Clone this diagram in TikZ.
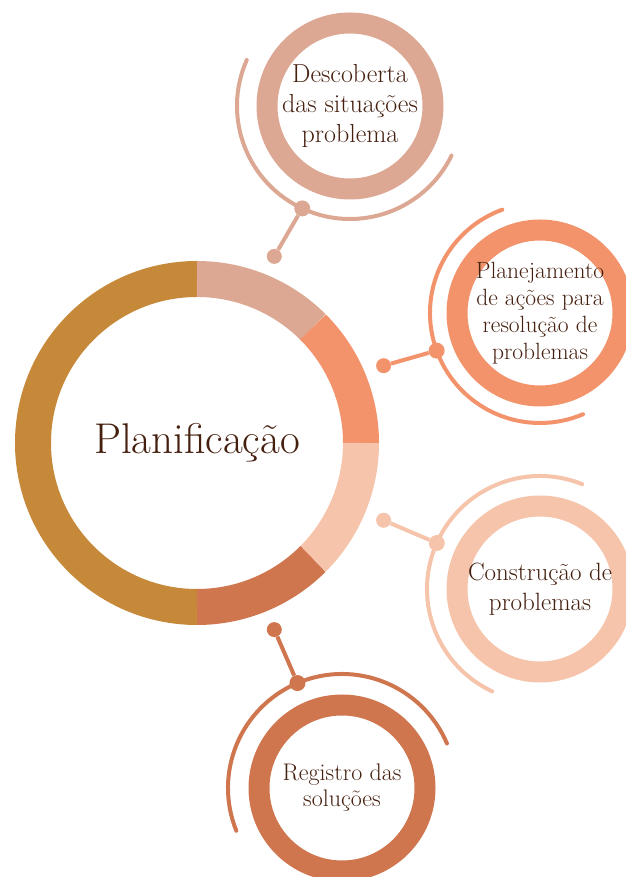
\documentclass[tikz,border=0pt]{standalone}
\usepackage{tikz}
\usetikzlibrary{calc}

\definecolor{ringgold}{HTML}{C6893A}
\definecolor{ringtan}{HTML}{DCA893}
\definecolor{ringsalmon}{HTML}{F2936C}
\definecolor{ringpeach}{HTML}{F5C4AB}
\definecolor{ringterra}{HTML}{CF764F}
\definecolor{textbrown}{HTML}{45200F}

\tikzset{
	ring/.style={circle,draw=#1,line width=21pt,minimum size=166pt,inner sep=0pt,text=textbrown,align=center,font=\fontsize{26}{30}\selectfont},
	dot/.style={circle,fill=#1,inner sep=0pt,minimum size=16pt},
	orbit/.style={draw=#1,line width=4pt,line cap=round}
}

\begin{document}
\begin{tikzpicture}[x=1pt,y=1pt]

\useasboundingbox (0,0) rectangle (625,877);

%central ring
\coordinate (mid) at (197,434);
\draw[ringgold,line width=36pt] ($(mid)+(90:164)$) arc[start angle=90,end angle=270,radius=164];
\foreach \a/\c in {90/ringtan,45/ringsalmon,0/ringpeach,-45/ringterra}
{
	\draw[\c,line width=36pt] ($(mid)+(\a:164)$) arc[start angle=\a,delta angle=-45,radius=164];
}
\node[text=textbrown,font=\fontsize{43}{43}\selectfont](plan) at (mid){Planificação};

%outer rings
\node[ring=ringtan](desc) at (350,771){Descoberta\\das situações\\problema};
\node[ring=ringsalmon,font=\fontsize{23.5}{27}\selectfont](plane) at (540,564){Planejamento\\de ações para\\resolução de\\problemas};
\node[ring=ringpeach,font=\fontsize{25}{30}\selectfont](cons) at (540,288){Construção de\\problemas};
\node[ring=ringterra,font=\fontsize{24}{26}\selectfont](regi) at (342,89){Registro das\\soluções};

%orbits, dots and links
\foreach \n/\c/\s/\e/\d/\r/\a in {desc/ringtan/156/334/245/113/67.5, plane/ringsalmon/110/293/200/110/22.5, cons/ringpeach/68/245/156/113/-22.5, regi/ringterra/23/202/113/114/-67.5}
{
	\draw[orbit=\c] ($(\n.center)+(\s:\r)$) arc[start angle=\s,end angle=\e,radius=\r];
	\node[dot=\c](out\n) at ($(\n.center)+(\d:\r)$){};
	\node[dot=\c,minimum size=15pt](in\n) at ($(mid)+(\a:202)$){};
	\draw[\c,line width=4pt](in\n)--(out\n);
}

\end{tikzpicture}
\end{document}
